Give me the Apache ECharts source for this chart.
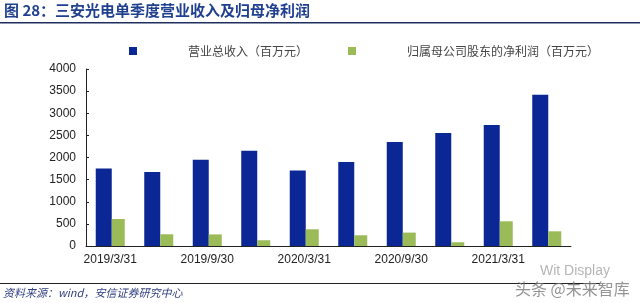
<!DOCTYPE html>
<html><head><meta charset="utf-8">
<script src="https://cdn.jsdelivr.net/npm/echarts@6/dist/echarts.min.js"></script>
<style>html,body{margin:0;padding:0;background:#fff}#c{width:640px;height:303px}</style>
</head><body><div id="c"></div>
<script>
const categories = ['2019/3/31','2019/6/30','2019/9/30','2019/12/31','2020/3/31','2020/6/30','2020/9/30','2020/12/31','2021/3/31','2021/6/30'];
const revenue = [1750, 1670, 1950, 2155, 1705, 1900, 2350, 2555, 2735, 3420];
const netProfit = [610, 265, 262, 130, 378, 242, 303, 85, 558, 332];
const seriesNames = ['营业总收入（百万元）', '归属母公司股东的净利润（百万元）'];
const yTicks = {min: 0, max: 4000, interval: 500};

const chart = echarts.init(document.getElementById('c'));
const font = 'Liberation Sans, Arial, sans-serif';
chart.setOption({
  animation: false,
  backgroundColor: '#fff',
  grid: {left: 86, right: 69, top: 69, bottom: 57},
  legend: {
    top: 40, left: 124, itemGap: 40, itemWidth: 8, itemHeight: 8,
    icon: 'rect',
    textStyle: {fontFamily: 'Noto Sans CJK SC', fontSize: 12, color: '#444', padding: [0,0,0,46]},
    data: seriesNames
  },
  xAxis: {
    type: 'category', data: categories,
    axisLine: {lineStyle: {color: '#222', width: 1}},
    axisTick: {inside: true, length: 3, lineStyle: {color: '#222'}},
    axisLabel: {interval: 1, color: '#222', fontSize: 12, fontFamily: font, margin: 8}
  },
  yAxis: {
    type: 'value', min: yTicks.min, max: yTicks.max, interval: yTicks.interval,
    axisLine: {show: true, lineStyle: {color: '#222', width: 1}},
    axisTick: {show: true, inside: true, length: 3, lineStyle: {color: '#222'}},
    splitLine: {show: false},
    axisLabel: {color: '#222', fontSize: 12, fontFamily: font, margin: 10, formatter: v => String(v)}
  },
  series: [
    {name: seriesNames[0], type: 'bar', data: revenue, barWidth: 16, barGap: '0%', itemStyle: {color: '#0B2795'}},
    {name: seriesNames[1], type: 'bar', data: netProfit, barWidth: 13, barGap: '0%', itemStyle: {color: '#9BBB59'}}
  ],
  graphic: [
    {type: 'text', left: 4, top: 3, style: {text: '图 28：三安光电单季度营业收入及归母净利润', font: 'bold 15px "Noto Sans CJK SC"', fill: '#1F3F8F'}},
    {type: 'rect', shape: {x: 0, y: 22, width: 640, height: 1.5}, style: {fill: '#1F2F5F'}},
    {type: 'rect', shape: {x: 0, y: 283, width: 600, height: 1}, style: {fill: '#222'}},
    {type: 'text', left: 3, top: 287, style: {text: '资料来源：wind，安信证券研究中心', font: 'italic 11px "Noto Sans CJK SC"', fill: '#2F3F7F'}},
    {type: 'text', left: 540, top: 264, style: {text: 'Wit Display', font: '14px "Liberation Sans"', fill: 'rgba(150,150,150,0.7)'}},
    {type: 'text', left: 515, top: 281, style: {text: '头条 @未来智库', font: '16px "Noto Sans CJK SC"', fill: 'rgba(120,120,120,0.8)'}}
  ]
});
</script></body></html>
